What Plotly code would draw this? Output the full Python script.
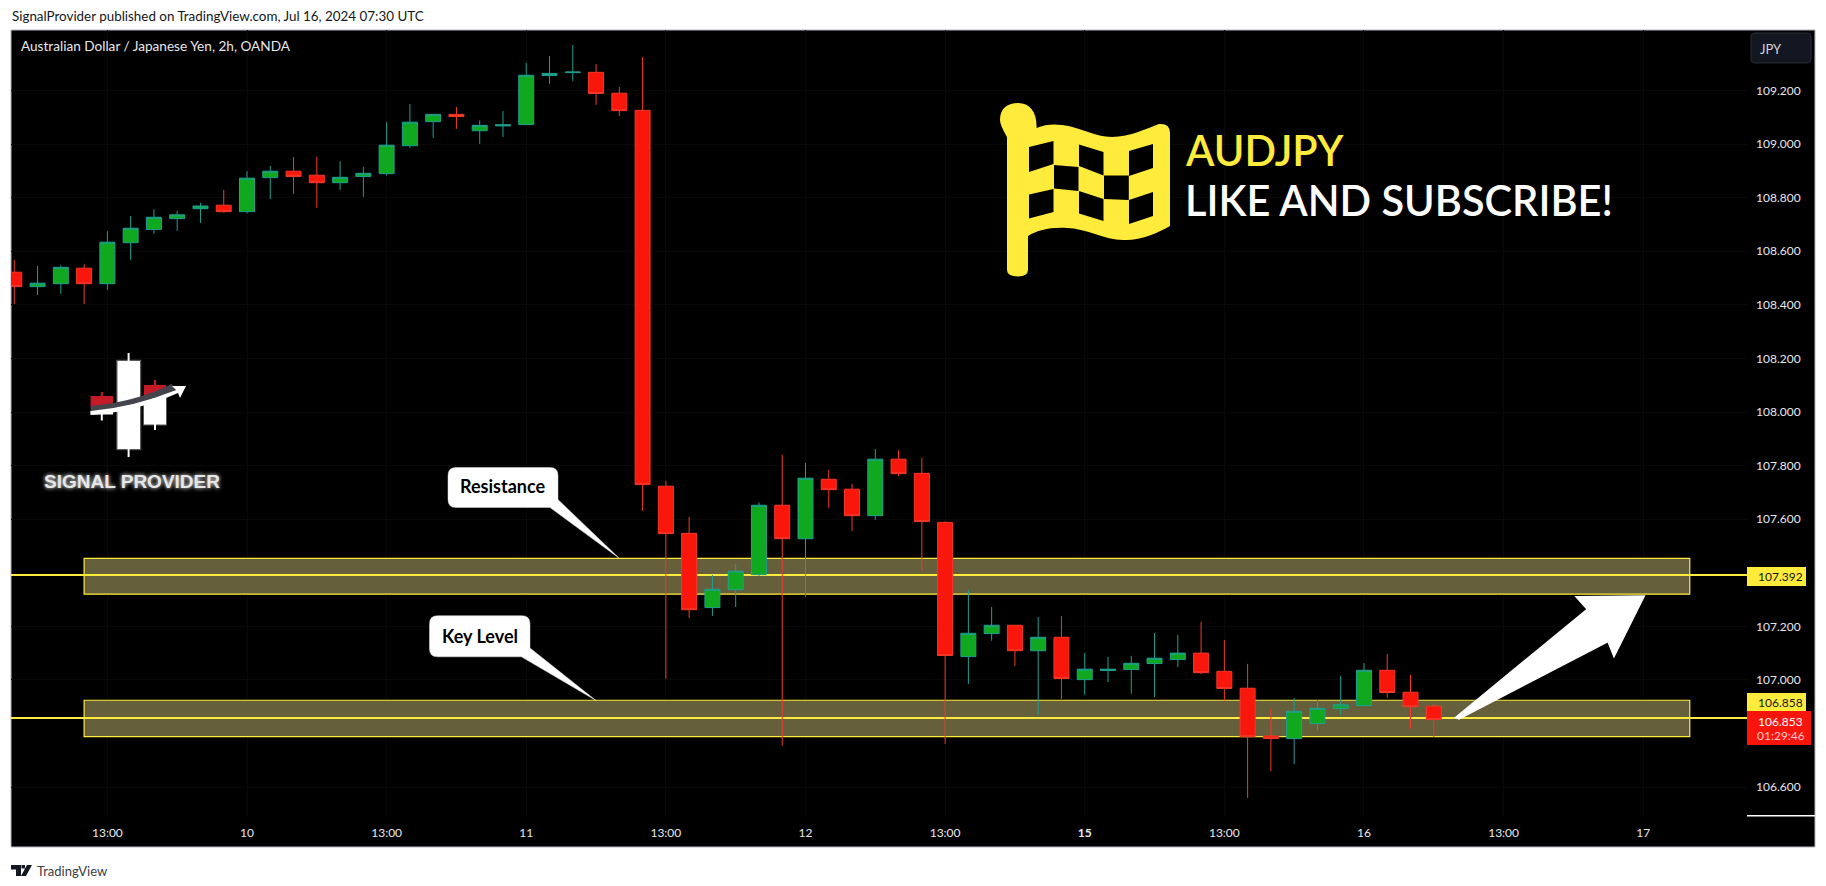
import plotly.graph_objects as go

# ---------- data ----------
bar_index = list(range(62))
opens = [108.522,108.468,108.479,108.537,108.479,108.632,108.681,108.722,108.759,108.772,108.748,108.875,108.899,108.884,108.856,108.879,108.890,108.994,109.084,109.111,109.050,109.068,109.073,109.256,109.267,109.268,109.190,109.126,
         107.723,107.547,107.270,107.337,107.393,107.652,107.527,107.749,107.712,107.613,107.824,107.771,107.588,107.087,107.173,107.204,107.109,107.159,107.001,107.035,107.039,107.061,107.076,107.100,107.032,106.969,106.791,106.781,106.837,106.893,106.904,107.036,106.954,106.902]
highs = [108.568,108.545,108.548,108.553,108.675,108.732,108.757,108.751,108.780,108.829,108.899,108.919,108.952,108.952,108.936,108.915,109.083,109.150,109.111,109.139,109.089,109.124,109.303,109.329,109.370,109.299,109.213,109.325,
         107.743,107.608,107.392,107.433,107.663,107.840,107.810,107.784,107.732,107.862,107.858,107.829,107.592,107.336,107.272,107.204,107.235,107.239,107.101,107.086,107.090,107.175,107.168,107.216,107.149,107.060,106.892,106.932,106.925,107.015,107.063,107.097,107.019,106.910]
lows = [108.403,108.437,108.441,108.403,108.456,108.568,108.665,108.676,108.706,108.744,108.741,108.795,108.814,108.762,108.829,108.803,108.882,108.986,109.023,109.057,109.001,109.027,109.073,109.225,109.236,109.146,109.105,107.631,
        107.004,107.231,107.239,107.272,107.388,106.754,107.310,107.642,107.556,107.597,107.761,107.407,106.761,106.985,107.146,107.052,106.869,106.929,106.944,106.992,106.948,106.936,107.048,107.022,106.923,106.559,106.660,106.686,106.810,106.869,106.904,106.933,106.817,106.787]
closes = [108.468,108.481,108.540,108.479,108.634,108.686,108.727,108.736,108.769,108.748,108.873,108.899,108.879,108.856,108.876,108.891,108.996,109.082,109.111,109.103,109.070,109.072,109.257,109.264,109.269,109.189,109.125,107.729,
          107.546,107.262,107.338,107.406,107.652,107.527,107.753,107.710,107.613,107.824,107.770,107.591,107.091,107.174,107.204,107.109,107.159,107.005,107.040,107.040,107.062,107.081,107.100,107.027,106.968,106.788,106.781,106.883,106.894,106.907,107.036,106.953,106.900,106.852]

x_tick_vals = [4,10,16,22,28,34,40,46,52,58,64,70]
x_tick_text = ["13:00","10","13:00","11","13:00","12","13:00","<b>15</b>","13:00","16","13:00","17"]
y_tick_vals = [106.6,107.0,107.2,107.6,107.8,108.0,108.2,108.4,108.6,108.8,109.0,109.2]

resistance_level = 107.392
key_level = 106.858
zone_left, zone_right = 3, 72
res_zone = (107.320, 107.454)
key_zone = (106.788, 106.924)
x_view = [-0.142, 74.46]
y_view = [106.492, 109.426]

# ---------- geometry ----------
W, H = 1826, 886
L, R, T, B = 11, 1747, 30, 816
YEL = "#ffeb3b"
RED = "#f9160a"
GRN = "#10a81f"
FONT = "Lato"

def px(x): return (x - L) / (R - L)
def py(y): return 1 - (y - T) / (B - T)

def path(*pts):
    out = []
    for p in pts:
        if isinstance(p, str):
            out.append(p)
        else:
            out.append(f"{px(p[0]):.5f},{py(p[1]):.5f}")
    return " ".join(out)

shapes = []
def add(d, fill="rgba(0,0,0,0)", line="rgba(0,0,0,0)", w=0, layer="above"):
    shapes.append(dict(type="path", path=d, xref="paper", yref="paper", fillcolor=fill,
                       line=dict(color=line, width=w), layer=layer))

def box(x0, y0, x1, y1, **kw):
    add(path("M", (x0, y0), "L", (x1, y0), "L", (x1, y1), "L", (x0, y1), "Z"), **kw)

def poly(pts, **kw):
    toks = ["M", pts[0]]
    for p in pts[1:]:
        toks += ["L", p]
    toks.append("Z")
    add(path(*toks), **kw)

# chart panel
box(11, 30, 1815, 847, fill="black", line="#b2b5be", w=1, layer="below")

# zones and levels, in data coordinates, above the grid and below the candles
for lo, hi in (res_zone, key_zone):
    shapes.append(dict(type="rect", xref="x", yref="y", x0=zone_left, x1=zone_right, y0=lo, y1=hi,
                       fillcolor="#665f3c", line=dict(color=YEL, width=1.2), layer="between"))
for lv in (resistance_level, key_level):
    shapes.append(dict(type="line", xref="x", yref="y", x0=x_view[0], x1=x_view[1], y0=lv, y1=lv,
                       line=dict(color=YEL, width=2), layer="between"))

# price-scale labels
box(1747, 567, 1806, 586, fill=YEL)
box(1747, 693, 1806, 711, fill=YEL)
box(1747, 711, 1811, 745, fill="#f9150c")
box(1747, 815, 1815, 816.5, fill="white")
# JPY button
add(path("M",(1755,33),"L",(1807,33),"Q",(1811,33),(1811,37),"L",(1811,59),"Q",(1811,63),(1807,63),
         "L",(1755,63),"Q",(1751,63),(1751,59),"L",(1751,37),"Q",(1751,33),(1755,33),"Z"),
    fill="#131722", line="#2a2e39", w=1)

# flag
add(path("M",(1007,137),"Q",(1000,125),(1000,120),"C",(1000,108),(1008,103),(1018,103),
         "C",(1030,103),(1037,112),(1036.6,128),"C",(1045,124),(1055,124),(1062,125),
         "C",(1080,127),(1095,137),(1112,137),"C",(1130,137),(1148,128),(1159,124),
         "Q",(1170,123),(1170,133),"L",(1170,226),"C",(1160,232),(1140,241),(1123,240),
         "C",(1105,240),(1085,228),(1067,228),"C",(1050,227),(1038,230),(1028,236),
         "L",(1028,270),"Q",(1028,276),(1018,276.5),"Q",(1007,276),(1007,270),"Z"), fill=YEL)
cells = [((1029,147),(1053.5,141),(1053.5,164),(1029,172)),
         ((1079,144.5),(1103.5,152),(1103.5,175.5),(1079,166)),
         ((1129,151),(1153,144),(1153,168),(1129,176)),
         ((1054,165),(1078.5,167),(1078.5,191),(1054,188.5)),
         ((1104,175.5),(1128.8,175.5),(1128.8,200),(1104,199)),
         ((1029,194.5),(1053.5,189),(1053.5,212),(1029,218.5)),
         ((1079,191),(1103.5,199),(1103.5,221),(1079,213.5)),
         ((1129,200),(1153,192),(1153,216),(1129,224))]
for c in cells:
    poly(list(c), fill="black")

# logo candles
GL = "rgba(255,255,255,0.35)"
box(117.5, 361, 140, 449, fill="white", line=GL, w=2.5)
box(127.6, 353, 129.6, 457, fill="white")
box(90.6, 396, 113, 407, fill="#c41a28")
box(100.8, 392, 102.8, 396, fill="#c41a28")
box(90.6, 411, 113, 414.5, fill="white")
box(100.8, 414, 102.8, 420.5, fill="white")
box(144, 385, 166, 398, fill="#c41a28")
box(154, 380, 156, 385, fill="#c41a28")
box(144, 398, 166, 424.5, fill="white", line=GL, w=2)
box(154, 424, 156, 430, fill="white")
add(path("M",(90.6,406),"Q",(135,402),(172,384),"L",(175,390),"Q",(135,408),(90.6,411),"Z"), fill="#44454c")
add(path("M",(90.6,411),"Q",(135,407),(176,390),"L",(172,386),"L",(186,386),"L",(180,398),"L",(178,393),"Q",(135,412),(90.6,415),"Z"), fill="white")

# callouts
def callout(x0, y0, x1, y1, tail):
    r = 8
    a, b, tip = tail
    add(path("M",(x0+r,y0),"L",(x1-r,y0),"Q",(x1,y0),(x1,y0+r),"L",b,"L",tip,"L",a,
             "L",(x0+r,y1),"Q",(x0,y1),(x0,y1-r),"L",(x0,y0+r),"Q",(x0,y0),(x0+r,y0),"Z"), fill="white", line="#dddddd", w=0.5)
callout(448, 467.5, 558, 507.5, ((550,507.5),(558,499.6),(619.5,558.5)))
callout(429.5, 615.7, 530, 656.8, ((521.4,656.8),(530,648),(596,700.5)))

# big arrow
poly([(1455.5,717.5),(1587.2,609.3),(1576,596.7),(1644.3,596),(1614,656.7),(1608,641.7),(1459,719)], fill="white", line="white", w=1.5)

# TradingView mark
poly([(11,865),(21,865),(21,876),(16,876),(16,869.5),(11,869.5)], fill="#131722")
poly([(27,865),(32,865),(26,876),(21,876)], fill="#131722")
poly([(21.5,865),(25,865),(25,868.5),(21.5,868.5)], fill="#131722")

# ---------- annotations ----------
ann = []
def label(t, x, y, size, color, anchor="left", family=FONT, **font_kw):
    ann.append(dict(text=t, xref="paper", yref="paper", x=px(x), y=py(y), xanchor=anchor, yanchor="middle",
                    showarrow=False, borderpad=0, font=dict(family=family, size=size, color=color, **font_kw)))

label("SignalProvider published on TradingView.com, Jul 16, 2024 07:30 UTC", 11, 16, 13.4, "#131722")
label("Australian Dollar / Japanese Yen, 2h, OANDA", 20, 46.5, 13.6, "#e8e8e8")
label("AUDJPY", 1184, 150, 41.5, YEL, weight=600)
label("LIKE AND SUBSCRIBE!", 1184, 199.5, 41.5, "white", weight=600)
label("Resistance", 502.7, 486, 18, "black", "center", weight="bold")
label("Key Level", 480, 635.5, 18, "black", "center", weight="bold")
label("<b>SIGNAL PROVIDER</b>", 131.5, 481.5, 19, "#e6e6e6", "center", family="Liberation Sans",
      shadow="0px 0px 4px #ffffff")
label("JPY", 1771, 48.5, 13, "#d1d4dc", "center")
label("107.392", 1757, 576.5, 12, "#131722")
label("106.858", 1757, 702.5, 12, "#131722")
label("106.853", 1757, 721, 12, "white")
label("01:29:46", 1756, 735.5, 12, "#ffc9c9")
label("TradingView", 36, 871, 13, "#3a3d45")

# ---------- figure ----------
fig = go.Figure(go.Candlestick(
    x=bar_index, open=opens, high=highs, low=lows, close=closes,
    increasing=dict(line=dict(color="#1f9f90", width=1), fillcolor=GRN),
    decreasing=dict(line=dict(color="#f2392a", width=1), fillcolor=RED),
    showlegend=False, hoverinfo="skip"))

fig.update_layout(
    width=W, height=H, autosize=False, paper_bgcolor="white", plot_bgcolor="black",
    margin=dict(l=L, r=W - R, t=T, b=H - B, pad=0), showlegend=False, boxgap=0.08,
    shapes=shapes, annotations=ann, font=dict(family=FONT),
    xaxis=dict(range=x_view, tickmode="array", tickvals=x_tick_vals, ticktext=x_tick_text,
               showgrid=True, gridcolor="#090909", zeroline=False, showline=False, ticks="",
               tickfont=dict(family=FONT, size=12, color="#e8e8e8"), ticklabelstandoff=8,
               rangeslider=dict(visible=False)),
    yaxis=dict(range=y_view, side="right", tickmode="array", tickvals=y_tick_vals,
               tickformat=".3f", showgrid=True, gridcolor="#090909", zeroline=False, showline=False, ticks="",
               tickfont=dict(family=FONT, size=12, color="#e8e8e8"), ticklabelstandoff=8),
)

fig.write_html("out.html", config=dict(displayModeBar=False),
               post_script="document.body.style.margin='0';document.documentElement.style.overflow='hidden';")
